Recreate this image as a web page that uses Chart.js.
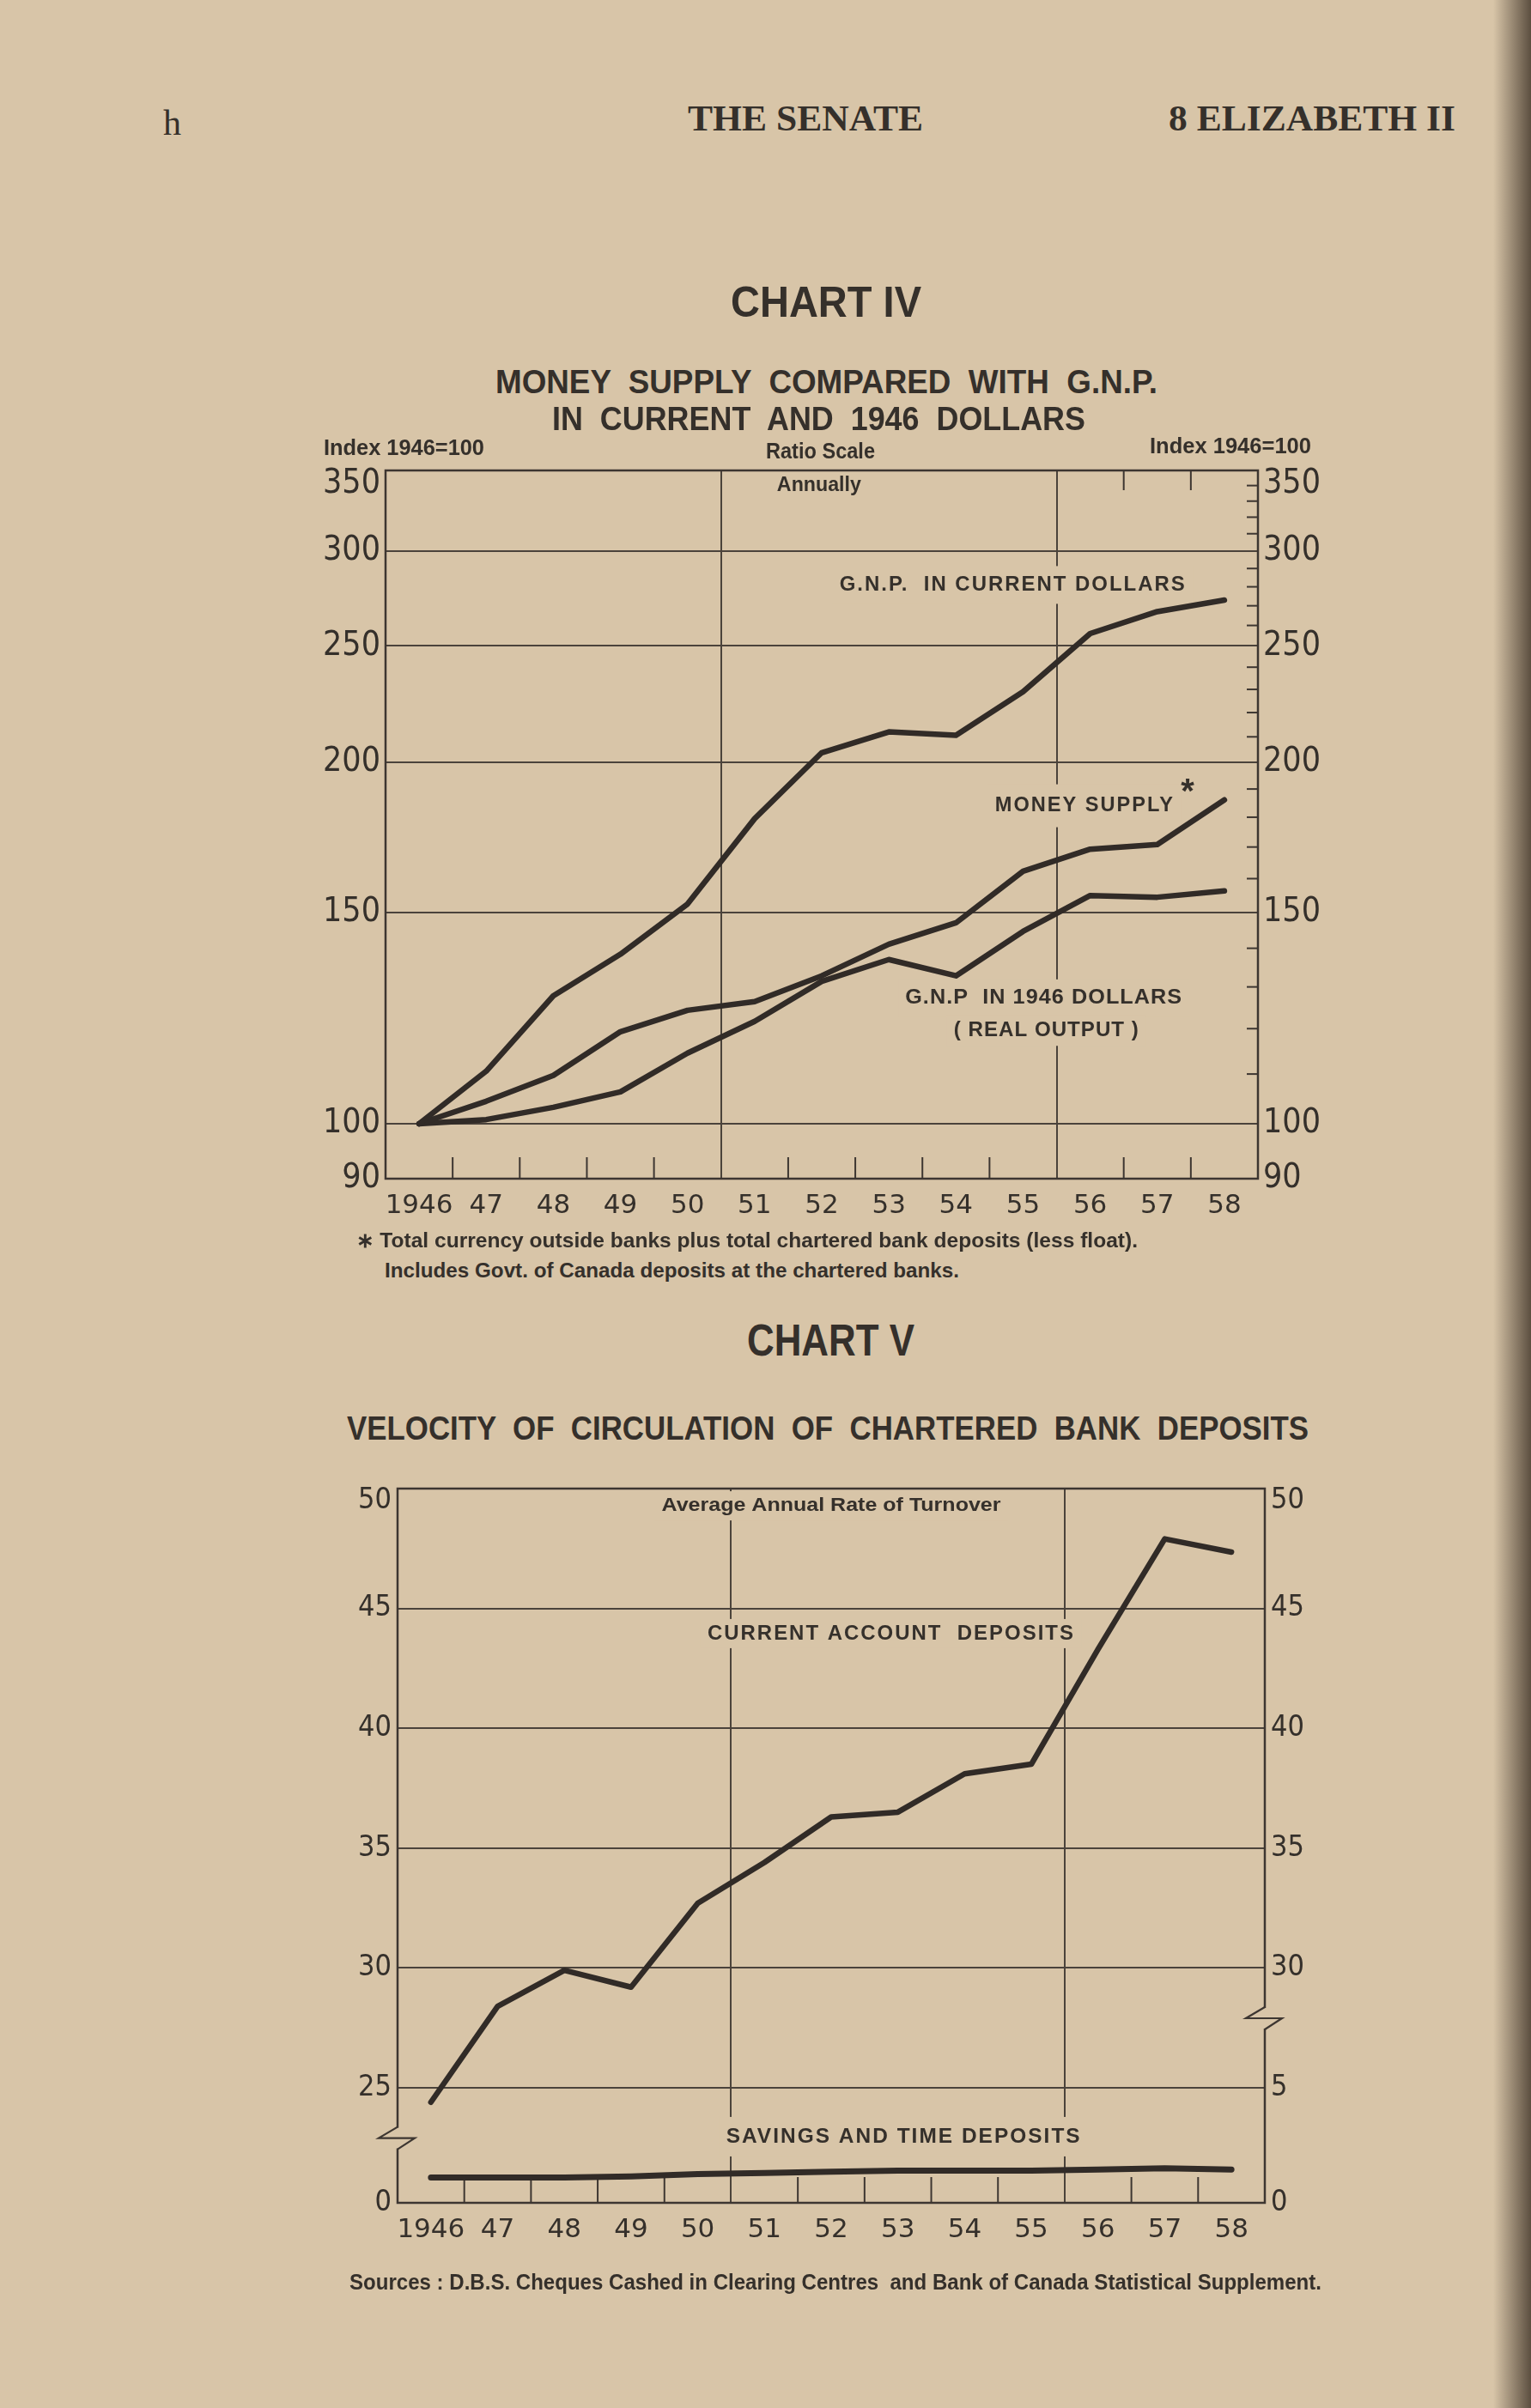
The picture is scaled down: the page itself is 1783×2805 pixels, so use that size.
<!DOCTYPE html>
<html>
<head>
    <title>The Senate - Chart IV and Chart V</title>
    <style>
        body {
            margin: 0;
            background: #d8c5a8;
        }
        #page {
            position: relative;
            width: 1783px;
            height: 2805px;
            overflow: hidden;
            background: #d8c5a8;
            color: #35302b;
        }
        .txt {
            position: absolute;
            white-space: pre;
            transform-origin: left center;
        }
        .serif {
            font-family: 'Liberation Serif', 'DejaVu Serif', serif;
            font-weight: bold;
        }
        .gothic {
            font-family: 'Liberation Sans Narrow', 'Liberation Sans', Arial, sans-serif;
            font-weight: bold;
        }
        .chart-box {
            position: absolute;
        }
        #chart4-box { left: 300px; top: 500px; width: 1300px; height: 950px; }
        #chart5-box { left: 310px; top: 1690px; width: 1300px; height: 960px; }
        #edge {
            position: absolute;
            right: 0;
            top: 0;
            width: 44px;
            height: 2805px;
            background: linear-gradient(to right, rgba(90, 75, 60, 0), rgba(70, 58, 46, 0.85));
        }
    </style>
    <script src="https://cdn.jsdelivr.net/npm/chart.js"></script>
</head>
<body>
<div id="page">
    <div id="chart4-box" class="chart-box"><canvas id="chart4"></canvas></div>
    <div id="chart5-box" class="chart-box"><canvas id="chart5"></canvas></div>
    <div id="edge"></div>
</div>
<script>
    // ---- data ----
    const years = ['1946', '47', '48', '49', '50', '51', '52', '53', '54', '55', '56', '57', '58'];

    // Chart IV, index 1946 = 100, ratio scale
    const gnpCurrent = [100, 110.6, 127.8, 138.4, 152.4, 179.5, 203.7, 212, 210.6, 229, 256, 267, 273];
    const moneySupply = [100, 104.4, 109.7, 119.3, 124.3, 126.4, 132.8, 141.1, 147.0, 162.3, 169.3, 170.8, 186.1];
    const gnpReal = [100, 100.8, 103.2, 106.3, 114.5, 121.7, 131.4, 137.0, 132.8, 144.6, 154.9, 154.4, 156.3];
    const ratioTicks = [90, 100, 150, 200, 250, 300, 350];
    const ratioMinorTicks = [110, 120, 130, 140, 160, 170, 180, 190, 210, 220, 230, 240, 260, 270, 280, 290, 310, 320, 330, 340];

    // Chart V, average annual rate of turnover
    const currentAccount = [24.4, 28.4, 29.9, 29.2, 32.7, 34.4, 36.3, 36.5, 38.1, 38.5, 43.3, 47.9, 47.35];
    const savingsTime = [1.1, 1.1, 1.1, 1.15, 1.25, 1.3, 1.35, 1.4, 1.4, 1.4, 1.45, 1.5, 1.45];
    const velocityTicks = [25, 30, 35, 40, 45, 50];
    const savingsTick = 5;

    // broken axis: the bottom of the upper panel sits at this value
    const VEL_BASE = 20.2;
    const SAV_MAX = savingsTick * (50 - VEL_BASE) / (25 - VEL_BASE);

    const paper = '#d8c5a8';
    const ink = '#35302b';
    const gridColor = '#4b433b';
    const clear = 'rgba(0,0,0,0)';
    const lineColor = '#312b27';

    // ---- page texts ----
    const pageTexts = [
        { text: 'h', x: 190, y: 143, size: 42, cls: 'serif', weight: 'normal' },
        { text: 'THE SENATE', x: 801, y: 138, w: 274, size: 42, cls: 'serif' },
        { text: '8 ELIZABETH II', x: 1361, y: 138, w: 334, size: 42, cls: 'serif' },
        { text: 'CHART IV', x: 851, y: 352, w: 222, size: 50, cls: 'gothic' },
        { text: 'MONEY  SUPPLY  COMPARED  WITH  G.N.P.', x: 577, y: 445, w: 771, size: 38, cls: 'gothic' },
        { text: 'IN  CURRENT  AND  1946  DOLLARS', x: 643, y: 488, w: 621, size: 38, cls: 'gothic' },
        { text: 'Index 1946=100', x: 377, y: 521, w: 187, size: 26, cls: 'gothic' },
        { text: 'Ratio Scale', x: 892, y: 525, w: 127, size: 26, cls: 'gothic' },
        { text: 'Index 1946=100', x: 1339, y: 519, w: 188, size: 26, cls: 'gothic' },
        { text: '\u2217 Total currency outside banks plus total chartered bank deposits (less float).', x: 415, y: 1445, w: 910, size: 24, cls: 'gothic' },
        { text: 'Includes Govt. of Canada deposits at the chartered banks.', x: 448, y: 1480, w: 669, size: 24, cls: 'gothic' },
        { text: 'CHART V', x: 870, y: 1561, w: 195, size: 51, cls: 'gothic' },
        { text: 'VELOCITY  OF  CIRCULATION  OF  CHARTERED  BANK  DEPOSITS', x: 404, y: 1664, w: 1120, size: 38, cls: 'gothic' },
        { text: 'Sources : D.B.S. Cheques Cashed in Clearing Centres  and Bank of Canada Statistical Supplement.', x: 407, y: 2658, w: 1132, size: 26, cls: 'gothic' }
    ];

    function placeText(t) {
        const el = document.createElement('div');
        el.className = 'txt ' + t.cls;
        el.textContent = t.text;
        el.style.fontSize = t.size + 'px';
        el.style.lineHeight = t.size + 'px';
        if (t.weight) el.style.fontWeight = t.weight;
        el.style.left = t.x + 'px';
        el.style.top = (t.y - t.size / 2) + 'px';
        document.getElementById('page').appendChild(el);
        if (t.w) {
            const s = t.w / el.getBoundingClientRect().width;
            el.style.transform = 'scaleX(' + s + ')';
        }
    }

    // ---- chart helpers ----
    function edgePx(xs, i) {
        return (xs.getPixelForValue(i - 1) + xs.getPixelForValue(i)) / 2;
    }

    function seg(ctx, x1, y1, x2, y2) {
        ctx.beginPath();
        ctx.moveTo(x1, y1);
        ctx.lineTo(x2, y2);
        ctx.stroke();
    }

    function drawNote(chart, n) {
        const ctx = chart.ctx;
        const cx = chart.scales.x.getPixelForValue(n.i);
        const cy = chart.scales[n.axis || 'y'].getPixelForValue(n.v);
        ctx.save();
        ctx.font = n.font;
        ctx.letterSpacing = n.spacing || '0px';
        const w = ctx.measureText(n.text).width;
        const sx = n.width ? n.width / w : 1;
        const shown = n.width || w;
        if (n.mask) {
            ctx.fillStyle = paper;
            ctx.fillRect(cx - shown / 2 - 8, cy - n.mask, shown + 16, n.mask * 2);
        }
        ctx.translate(cx, cy);
        ctx.scale(sx, 1);
        ctx.fillStyle = ink;
        ctx.textAlign = 'center';
        ctx.textBaseline = 'middle';
        ctx.fillText(n.text, 0, 0);
        ctx.restore();
    }

    function drawBreak(ctx, x0, yc) {
        ctx.fillStyle = paper;
        ctx.fillRect(x0 - 3, yc - 12, 6, 24);
        ctx.beginPath();
        ctx.moveTo(x0, yc - 13);
        ctx.lineTo(x0 - 22, yc);
        ctx.lineTo(x0 + 20, yc);
        ctx.lineTo(x0, yc + 13);
        ctx.stroke();
    }

    function framePlugin(cfg) {
        return {
            id: 'paperFrame',
            beforeDatasetsDraw(chart) {
                const ctx = chart.ctx;
                const a = chart.chartArea;
                const xs = chart.scales.x;
                ctx.save();
                ctx.strokeStyle = '#3d3631';
                ctx.lineWidth = 2.5;
                ctx.strokeRect(a.left, a.top, a.right - a.left, a.bottom - a.top);
                ctx.lineWidth = 2;
                cfg.bottomTicks.forEach(i => {
                    const px = edgePx(xs, i);
                    seg(ctx, px, a.bottom, px, a.bottom - cfg.tickLen);
                });
                (cfg.topTicks || []).forEach(i => {
                    const px = edgePx(xs, i);
                    seg(ctx, px, a.top, px, a.top + 23);
                });
                if (cfg.minorAxis) {
                    const ys = chart.scales[cfg.minorAxis];
                    cfg.minorValues.forEach(v => {
                        const py = ys.getPixelForValue(v);
                        seg(ctx, a.right - 13, py, a.right, py);
                    });
                }
                ctx.lineWidth = 2.2;
                (cfg.breaks || []).forEach(b => {
                    drawBreak(ctx, b.side === 'left' ? a.left : a.right, chart.scales.y.getPixelForValue(b.v));
                });
                ctx.restore();
                cfg.notes.forEach(n => drawNote(chart, n));
            }
        };
    }

    function lineSet(label, data, axis, width) {
        return {
            label: label,
            data: data,
            yAxisID: axis,
            borderColor: lineColor,
            borderWidth: width,
            pointRadius: 0,
            tension: 0,
            fill: false,
            borderJoinStyle: 'round',
            borderCapStyle: 'round'
        };
    }

    // the top label of each axis sits a little below its line, as printed
    function dropTop(top, text) {
        return top ? ['', text] : text;
    }

    const tickFont = { family: "'DejaVu Sans', sans-serif", size: 31 };
    const yFontIV = { family: "'DejaVu Sans Condensed', 'DejaVu Sans', sans-serif", size: 39, lineHeight: 0.8 };
    const yFontV = { family: "'DejaVu Sans Condensed', 'DejaVu Sans', sans-serif", size: 34, lineHeight: 0.85 };
    const noteBold = "bold 24px 'Liberation Sans', Arial, sans-serif";

    function xScale(height) {
        return {
            type: 'category',
            offset: true,
            grid: {
                offset: true,
                drawTicks: false,
                lineWidth: 2,
                color: c => (c.index === 5 || c.index === 10) ? gridColor : clear
            },
            border: { display: false },
            ticks: { font: tickFont, color: ink, padding: 13, autoSkip: false, maxRotation: 0 },
            afterFit: s => { s.height = height; }
        };
    }

    function buildChartIV() {
        const notes = [
            { text: 'G.N.P.  IN CURRENT DOLLARS', i: 8.85, v: 281, width: 404, font: noteBold, spacing: '2px', mask: 22 },
            { text: 'MONEY SUPPLY', i: 9.92, v: 184, width: 209, font: noteBold, spacing: '2px', mask: 25 },
            { text: '*', i: 11.45, v: 188.5, font: "bold 40px 'Liberation Sans', Arial, sans-serif" },
            { text: 'G.N.P  IN 1946 DOLLARS', i: 9.31, v: 127.2, width: 323, font: noteBold, spacing: '1px', mask: 22 },
            { text: '( REAL OUTPUT )', i: 9.35, v: 119.6, width: 216, font: noteBold, spacing: '1px', mask: 18 },
            { text: 'Annually', i: 5.96, v: 340, width: 98, font: "bold 24px 'Liberation Sans Narrow', 'Liberation Sans', sans-serif" }
        ];
        const ratioAxis = (position) => ({
            type: 'logarithmic',
            position: position,
            min: 90,
            max: 350,
            afterBuildTicks: s => { s.ticks = ratioTicks.map(v => ({ value: v })); },
            ticks: { callback: v => dropTop(v === 350, String(v)), font: yFontIV, color: ink, padding: 6, autoSkip: false },
            grid: {
                drawTicks: false,
                drawOnChartArea: position === 'left',
                lineWidth: 2,
                color: c => (c.tick && c.tick.value > 90 && c.tick.value < 350) ? gridColor : clear
            },
            border: { display: false },
            afterFit: s => { s.width = 100; }
        });

        new Chart(document.getElementById('chart4'), {
            type: 'line',
            data: {
                labels: years,
                datasets: [
                    lineSet('G.N.P. in current dollars', gnpCurrent, 'y', 6.5),
                    lineSet('Money supply', moneySupply, 'y', 6.5),
                    lineSet('G.N.P. in 1946 dollars', gnpReal, 'y', 6.5)
                ]
            },
            options: {
                responsive: true,
                maintainAspectRatio: false,
                animation: false,
                layout: { padding: { left: 49, right: 35, top: 48, bottom: 27 } },
                plugins: { legend: { display: false }, tooltip: { enabled: false } },
                scales: {
                    x: xScale(50),
                    y: ratioAxis('left'),
                    yr: ratioAxis('right')
                }
            },
            plugins: [framePlugin({
                bottomTicks: [1, 2, 3, 4, 6, 7, 8, 9, 11, 12],
                topTicks: [11, 12],
                tickLen: 25,
                minorAxis: 'y',
                minorValues: ratioMinorTicks,
                notes: notes
            })]
        });
    }

    function buildChartV() {
        const notes = [
            { text: 'Average Annual Rate of Turnover', i: 6.0, v: 49.28, width: 395, font: "bold 22px 'Liberation Sans', Arial, sans-serif", mask: 17 },
            { text: 'CURRENT ACCOUNT  DEPOSITS', i: 6.9, v: 43.95, width: 428, font: noteBold, spacing: '2px', mask: 17 },
            { text: 'SAVINGS AND TIME DEPOSITS', i: 7.09, v: 22.96, width: 414, font: noteBold, spacing: '2px', mask: 23 }
        ];
        const velAxis = (position) => ({
            type: 'linear',
            position: position,
            min: VEL_BASE,
            max: 50,
            afterBuildTicks: s => { s.ticks = [VEL_BASE].concat(velocityTicks).map(v => ({ value: v })); },
            ticks: {
                callback: v => {
                    if (v === VEL_BASE) return '0';
                    if (position === 'right' && v === 25) return String(savingsTick);
                    return dropTop(v === 50, String(v));
                },
                font: yFontV, color: ink, padding: 7, autoSkip: false
            },
            grid: {
                drawTicks: false,
                drawOnChartArea: position === 'left',
                lineWidth: 2,
                color: c => (c.tick && c.tick.value > VEL_BASE && c.tick.value < 50) ? gridColor : clear
            },
            border: { display: false },
            afterFit: s => { s.width = 100; }
        });

        new Chart(document.getElementById('chart5'), {
            type: 'line',
            data: {
                labels: years,
                datasets: [
                    lineSet('Current account deposits', currentAccount, 'y', 6.5),
                    lineSet('Savings and time deposits', savingsTime, 'ys', 7)
                ]
            },
            options: {
                responsive: true,
                maintainAspectRatio: false,
                animation: false,
                layout: { padding: { left: 53, right: 37, top: 44, bottom: 29 } },
                plugins: { legend: { display: false }, tooltip: { enabled: false } },
                scales: {
                    x: xScale(55),
                    y: velAxis('left'),
                    yr: velAxis('right'),
                    ys: { type: 'linear', display: false, min: 0, max: SAV_MAX }
                }
            },
            plugins: [framePlugin({
                bottomTicks: [1, 2, 3, 4, 6, 7, 8, 9, 11, 12],
                tickLen: 30,
                breaks: [{ side: 'left', v: 22.9 }, { side: 'right', v: 27.9 }],
                notes: notes
            })]
        });
    }

    pageTexts.forEach(placeText);
    buildChartIV();
    buildChartV();
</script>
</body>
</html>
